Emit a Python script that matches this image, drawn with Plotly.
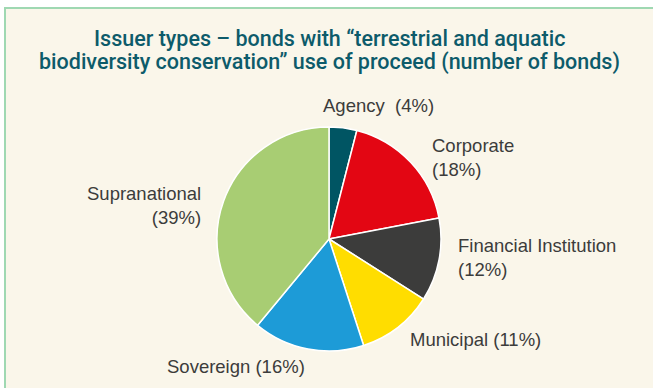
import plotly.graph_objects as go

# Issuer types for bonds financing terrestrial & aquatic biodiversity conservation
issuers = ["Agency", "Corporate", "Financial Institution", "Municipal", "Sovereign", "Supranational"]
shares = [4, 18, 12, 11, 16, 39]  # % of number of bonds
colors = ["#005563", "#E30613", "#3C3C3B", "#FFDD00", "#1D9BD7", "#A8CD73"]

title_lines = [
    "Issuer types – bonds with “terrestrial and aquatic",
    "biodiversity conservation” use of proceed (number of bonds)",
]

W, H = 653, 388
CX, CY, R = 329, 239, 112  # pie centre and radius in pixels

# label placement: (x px, y px, anchor, separator between name and share)
label_place = {
    "Agency": (321, 106, "left", "\u00a0 "),
    "Corporate": (430, 157, "left", "<br>"),
    "Financial Institution": (456, 257, "left", "<br>"),
    "Municipal": (408, 339, "left", " "),
    "Sovereign": (165, 366, "left", " "),
    "Supranational": (203, 205, "right", "<br>"),
}

fig = go.Figure(
    go.Pie(
        labels=issuers,
        values=shares,
        sort=False,
        direction="clockwise",
        rotation=0,
        marker=dict(colors=colors, line=dict(color="white", width=1.5)),
        textinfo="none",
        hoverinfo="label+percent",
        showlegend=False,
        domain=dict(
            x=[(CX - R) / W, (CX + R) / W],
            y=[1 - (CY + R) / H, 1 - (CY - R) / H],
        ),
    )
)

label_font = dict(family="Liberation Sans, Arial, sans-serif", size=18.5, color="#3C3C3B")
annotations = []
for name, v in zip(issuers, shares):
    x, y, anchor, sep = label_place[name]
    annotations.append(dict(
        x=x / W, y=1 - y / H, xref="paper", yref="paper",
        xanchor=anchor, yanchor="middle", align=anchor,
        text=f"{name}{sep}({v}%)", showarrow=False, font=label_font,
    ))

title_font = dict(family="Roboto, Arial, sans-serif", size=21.5, color="#0D5B6A", weight=500)
for line, y in zip(title_lines, [39, 62]):
    annotations.append(dict(
        x=329 / W, y=1 - y / H, xref="paper", yref="paper",
        xanchor="center", yanchor="middle", text=line,
        showarrow=False, font=title_font,
    ))

shapes = [
    # cream panel
    dict(type="rect", xref="paper", yref="paper", x0=5 / W, x1=1.02, y0=-0.02, y1=1 - 8 / H,
         fillcolor="#FAF6EA", line=dict(width=0), layer="below"),
    # green frame, top and left edges
    dict(type="line", xref="paper", yref="paper", x0=4 / W, x1=1.02, y0=1 - 8 / H, y1=1 - 8 / H,
         line=dict(color="#9FD8B2", width=2), layer="below"),
    dict(type="line", xref="paper", yref="paper", x0=5 / W, x1=5 / W, y0=-0.02, y1=1 - 7 / H,
         line=dict(color="#9FD8B2", width=2), layer="below"),
]

fig.update_layout(
    width=W, height=H,
    margin=dict(l=0, r=0, t=0, b=0),
    paper_bgcolor="white",
    annotations=annotations,
    shapes=shapes,
)

fig.write_html("out.html")
